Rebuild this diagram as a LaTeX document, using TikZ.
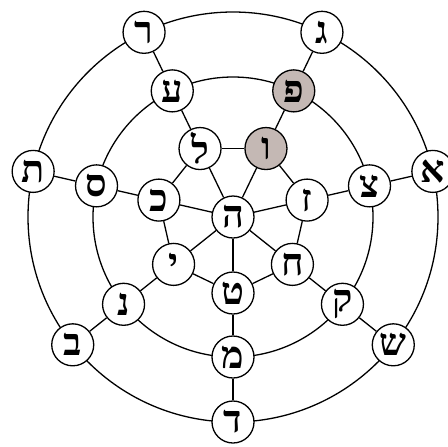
\documentclass[tikz,border=0pt]{standalone}
\usepackage{fontspec}
\newfontfamily\hebfont[Script=Hebrew]{Liberation Serif}
\usepackage{xcolor}
\definecolor{shade}{RGB}{196,184,180}
\usetikzlibrary{calc}

\begin{document}
\begin{tikzpicture}[x=0.5pt, y=0.5pt, line width=0.65pt,
  letter/.style={draw, circle, fill=white, minimum size=21pt, inner sep=0pt,
    font=\hebfont\bfseries\fontsize{19}{19}\selectfont},
  marked/.style={letter, fill=shade}]
  \useasboundingbox (-233,-229) rectangle (215,217);
  % rings behind the letters
  \coordinate (c) at (0,0);
  \draw (c) circle[radius=140];
  \draw (c) circle[radius=205];
  \node[letter] (hub) at (c) {ה};
  \foreach \k/\ia/\ma/\oa/\st in {0/ט/מ/ד/letter, 1/ח/ק/ש/letter, 2/ז/צ/א/letter,
      3/ו/פ/ג/marked, 4/ל/ע/ר/letter, 5/כ/ס/ת/letter, 6/י/נ/ב/letter} {
    \pgfmathsetmacro\ang{-90+\k*360/7}
    \node[\st] (in\k) at (\ang:76) {\ia};
    \node[\st] (mid\k) at (\ang:140) {\ma};
    \node[letter] (out\k) at (\ang:205) {\oa};
  }
  % spokes and inner heptagon
  \foreach \k [evaluate=\k as \n using {int(mod(\k+1,7))}] in {0,...,6} {
    \draw (hub) -- (in\k);
    \draw (in\k) -- (mid\k);
    \draw (mid\k) -- (out\k);
    \draw (in\k) -- (in\n);
  }
\end{tikzpicture}
\end{document}
